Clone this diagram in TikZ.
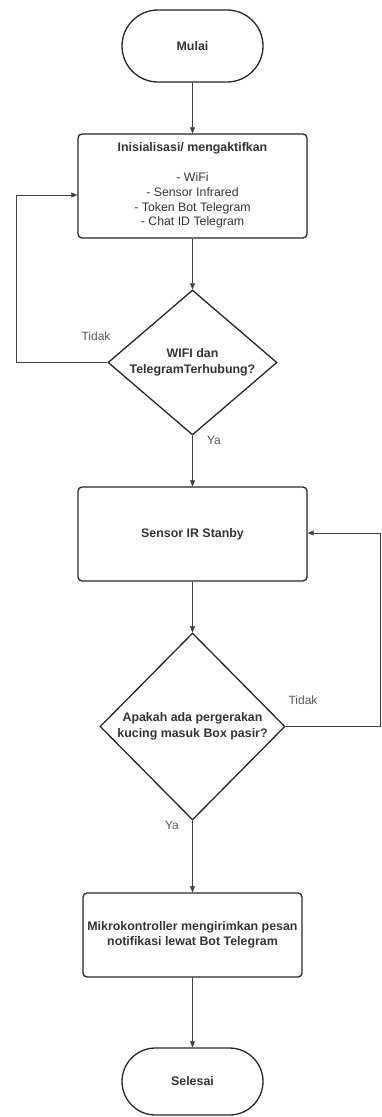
\documentclass[tikz,border=0pt]{standalone}
\usepackage{fontspec}
\setmainfont{Liberation Sans}
\usetikzlibrary{shapes.geometric,shapes.misc,arrows.meta}

\begin{document}
\begin{tikzpicture}[x=1pt,y=-1pt,
  font=\fontsize{12.4}{15.5}\selectfont\bfseries,
  terminal/.style={rounded rectangle,draw=black!85,line width=1.3pt,
    minimum width=141pt,text=black!80,inner sep=0pt},
  proses/.style={rectangle,rounded corners=4pt,draw=black!85,line width=1.3pt,
    minimum width=229pt,text=black!80,align=center,inner sep=0pt},
  keputusan/.style={diamond,draw=black!85,line width=1.3pt,
    text=black!80,align=center,inner sep=0pt},
  panah/.style={draw=black!75,line width=0.6pt,-{Triangle[length=6pt,width=5pt]}},
  ket/.style={font=\fontsize{12}{14}\selectfont,text=black!65}]
\useasboundingbox (0,0) rectangle (382,1117);

\node[terminal,minimum height=72pt] (mulai) at (192.5,46) {Mulai};
\node[proses,minimum height=104pt] (init) at (192.5,186) {};
\node[text=black!80] (judul) at (192.5,148) {Inisialisasi/ mengaktifkan};
\node[font=\fontsize{12.3}{14.8}\selectfont,text=black!80,align=center] (daftar) at (192.5,200.5)
  {- WiFi\\ - Sensor Infrared\\ - Token Bot Telegram\\ - Chat ID Telegram};
\node[keputusan,minimum width=169pt,minimum height=145pt,aspect=1.17] (cek) at (192.5,362.5)
  {WIFI dan\\ TelegramTerhubung?};
\node[proses,minimum height=94pt] (sensor) at (192.5,534) {Sensor IR Stanby};
\node[keputusan,minimum width=185pt,minimum height=187pt] (gerak) at (192.5,726.5)
  {Apakah ada pergerakan\\ kucing masuk Box pasir?};
\node[proses,minimum width=219pt,minimum height=84pt] (kirim) at (192.5,935)
  {Mikrokontroller mengirimkan pesan\\ notifikasi lewat Bot Telegram};
\node[terminal,minimum height=67pt] (selesai) at (192.5,1081.5) {Selesai};

% jalur utama
\draw[panah] (mulai) -- (init);
\draw[panah] (init) -- (cek);
\draw[panah] (cek) -- (sensor);
\draw[panah] (sensor) -- (gerak);
\draw[panah] (gerak) -- (kirim);
\draw[panah] (kirim) -- (selesai);

% jalur kembali
\coordinate (kiri) at (16,195);
\coordinate (kanan) at (380.5,533);
\draw[panah] (cek.west) -| (kiri) -- (init.west |- kiri);
\draw[panah] (gerak.east) -| (kanan) -- (sensor.east |- kanan);

\node[ket] (tidak1) at (96,336) {Tidak};
\node[ket] (ya1) at (214,440) {Ya};
\node[ket] (tidak2) at (303,700) {Tidak};
\node[ket] (ya2) at (172,825) {Ya};
\end{tikzpicture}
\end{document}
